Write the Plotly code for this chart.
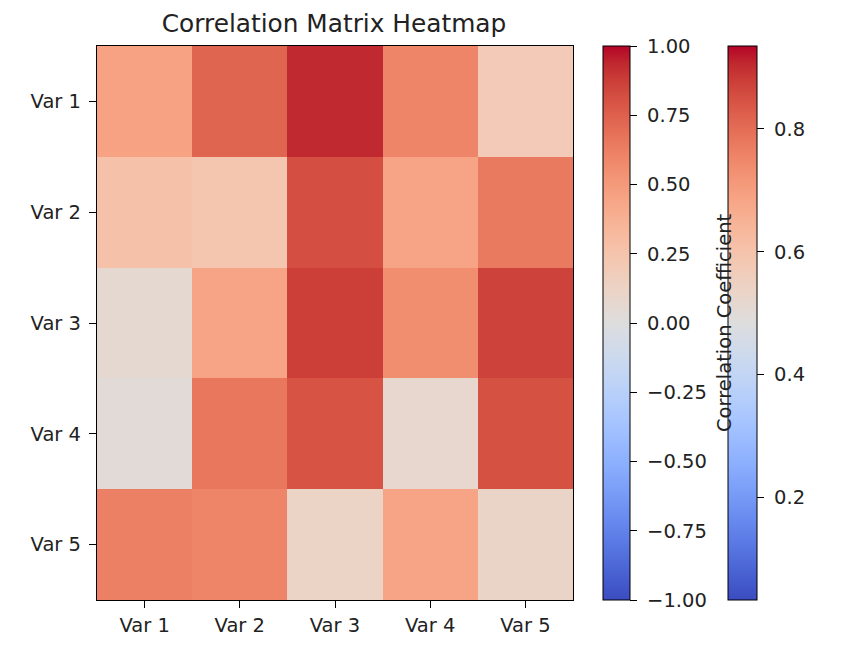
import plotly.graph_objects as go

labels = ["Var 1", "Var 2", "Var 3", "Var 4", "Var 5"]

# correlation values (rows Var 1..Var 5)
corr = [
    [0.46, 0.73, 0.935, 0.60, 0.20],
    [0.27, 0.24, 0.82, 0.45, 0.65],
    [0.06, 0.45, 0.87, 0.56, 0.86],
    [0.033, 0.66, 0.80, 0.08, 0.81],
    [0.62, 0.60, 0.12, 0.45, 0.11],
]

cbar1_ticks = [-1.0, -0.75, -0.5, -0.25, 0.0, 0.25, 0.5, 0.75, 1.0]
cbar2_ticks = [0.2, 0.4, 0.6, 0.8]

# matplotlib "coolwarm"
cw = [
    (0.0, (59, 76, 192)), (0.03125, (68, 90, 204)), (0.0625, (77, 104, 215)),
    (0.09375, (87, 117, 225)), (0.125, (98, 130, 234)), (0.15625, (108, 142, 241)),
    (0.1875, (119, 154, 247)), (0.21875, (130, 165, 251)), (0.25, (141, 176, 254)),
    (0.28125, (152, 185, 255)), (0.3125, (163, 194, 255)), (0.34375, (174, 201, 253)),
    (0.375, (184, 208, 249)), (0.40625, (194, 213, 244)), (0.4375, (204, 217, 238)),
    (0.46875, (213, 219, 230)), (0.5, (221, 221, 221)), (0.53125, (229, 216, 209)),
    (0.5625, (236, 211, 197)), (0.59375, (241, 204, 185)), (0.625, (245, 196, 173)),
    (0.65625, (247, 187, 160)), (0.6875, (247, 177, 148)), (0.71875, (247, 166, 135)),
    (0.75, (244, 154, 123)), (0.78125, (241, 141, 111)), (0.8125, (236, 127, 99)),
    (0.84375, (229, 112, 88)), (0.875, (222, 96, 77)), (0.90625, (213, 80, 66)),
    (0.9375, (203, 62, 56)), (0.96875, (192, 40, 47)), (1.0, (180, 4, 38)),
]
coolwarm = [[p, "rgb(%d,%d,%d)" % c] for p, c in cw]

FONT = "DejaVu Sans"
fs = 19.5
NB = "\u00a0"

# page body has an 8px margin, so screen pos = 8 + figure pos
OFF = 8
L, R, T, B = 97 - OFF, 268 + OFF, 46 - OFF, 58 + OFF
W, H = 841, 658
pw = W - L - R

def px(x):
    # screen x -> paper coordinate
    return (x - OFF - L) / pw

fig = go.Figure()

# second colorbar (data range), hidden under the main heatmap
fig.add_trace(go.Heatmap(
    z=corr, x=labels, y=labels, colorscale=coolwarm,
    colorbar=dict(
        x=px(728), xanchor="left", xpad=0, y=0.5, yanchor="middle", len=1, ypad=0,
        thickness=29, outlinewidth=1, outlinecolor="black",
        tickvals=cbar2_ticks, ticktext=[NB + f"{v:.1f}" for v in cbar2_ticks],
        ticks="outside", ticklen=7, tickwidth=1.2, tickcolor="black",
        tickfont=dict(family=FONT, size=fs, color="#222"),
    ),
))

fig.add_trace(go.Heatmap(
    z=corr, x=labels, y=labels, colorscale=coolwarm, zmin=-1, zmax=1,
    colorbar=dict(
        x=px(603), xanchor="left", xpad=0, y=0.5, yanchor="middle", len=1, ypad=0,
        thickness=27, outlinewidth=1, outlinecolor="black",
        tickvals=cbar1_ticks,
        ticktext=[NB + f"{v:.2f}".replace("-", "\u2212") for v in cbar1_ticks],
        ticks="outside", ticklen=7, tickwidth=1.2, tickcolor="black",
        tickfont=dict(family=FONT, size=fs, color="#222"),
    ),
))

fig.add_annotation(
    text="Correlation Coefficient", textangle=-90,
    x=px(724), y=0.5, xref="paper", yref="paper",
    xanchor="center", yanchor="middle", showarrow=False,
    font=dict(family=FONT, size=fs, color="#222"),
)

axis = dict(
    showline=True, mirror=True, linecolor="black", linewidth=1.2,
    ticks="outside", ticklen=7, tickwidth=1.2, tickcolor="black",
    showgrid=False, zeroline=False,
    tickfont=dict(family=FONT, size=fs, color="#222"),
)

fig.update_layout(
    width=W, height=H,
    margin=dict(l=L, r=R, t=T, b=B),
    paper_bgcolor="white", plot_bgcolor="white",
    title=dict(text="Correlation Matrix Heatmap", xref="paper", x=px(334),
               xanchor="center", y=1 - 15 / H, yanchor="middle",
               font=dict(family=FONT, size=24.8, color="#222")),
    xaxis=dict(axis, range=[-0.5, 4.5]),
    yaxis=dict(axis, range=[4.5, -0.5], ticklabelstandoff=4),
)

fig.write_html("out.html")
